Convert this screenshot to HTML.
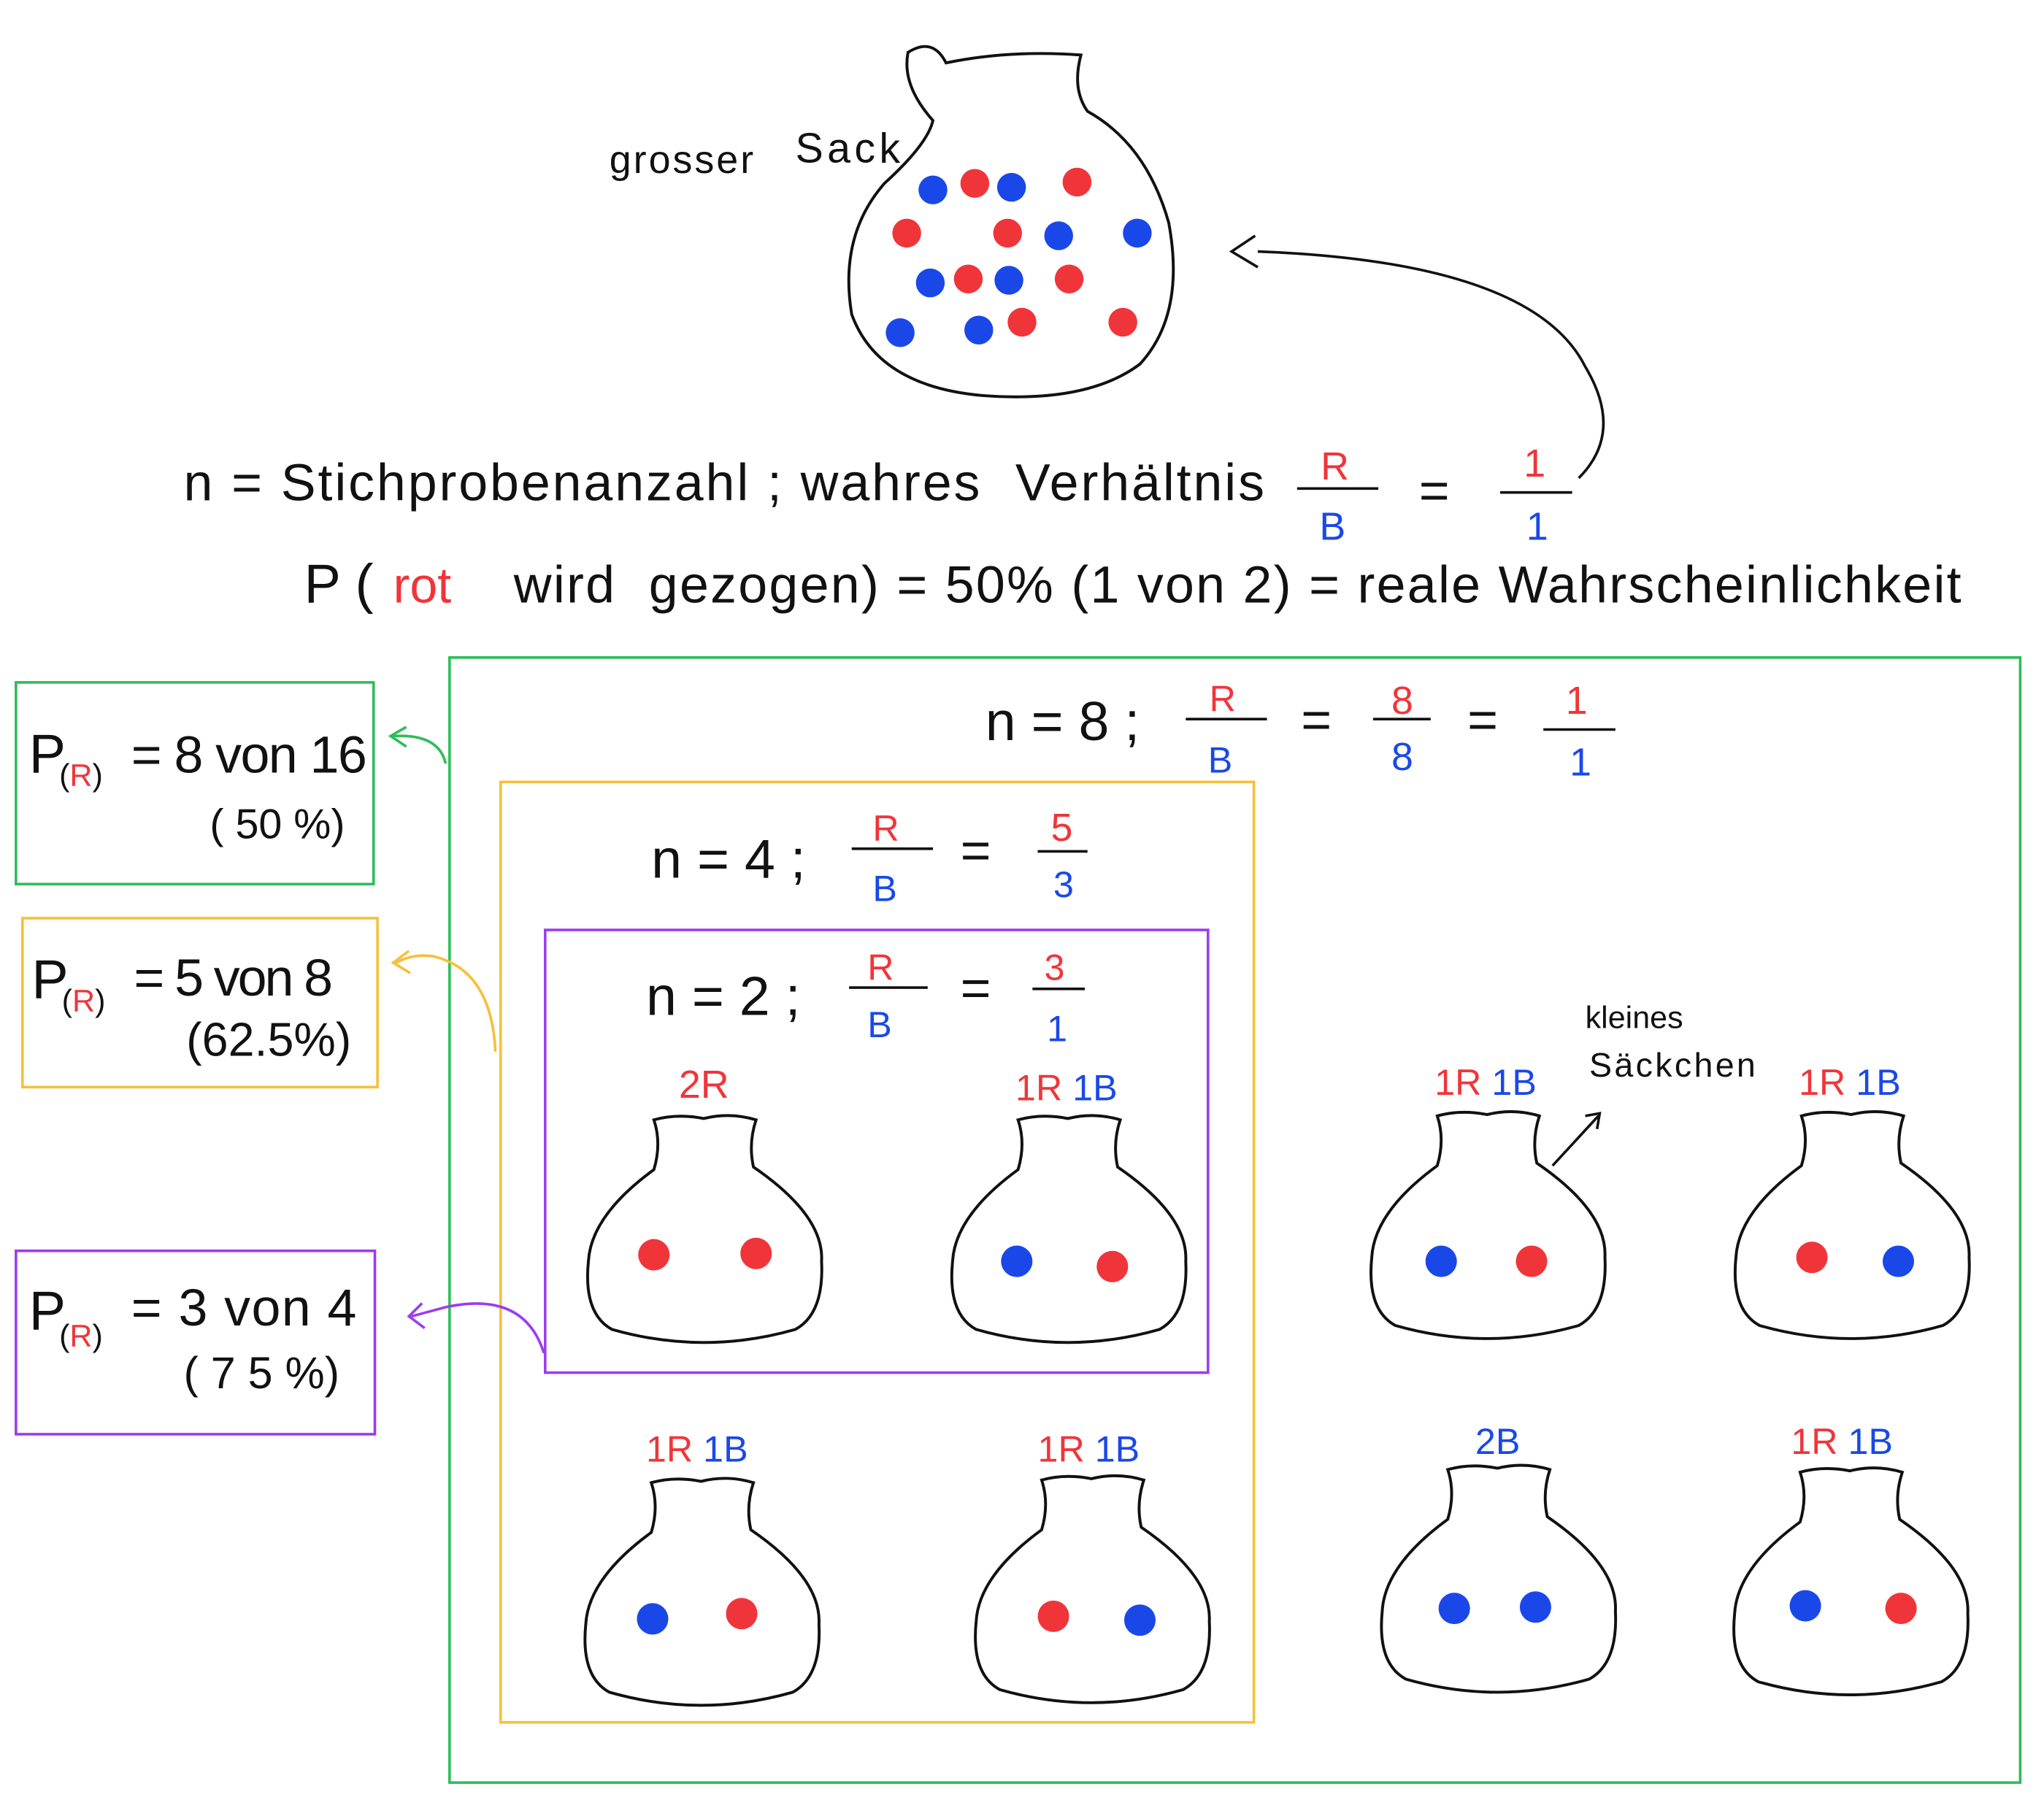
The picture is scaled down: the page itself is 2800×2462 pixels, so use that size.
<!DOCTYPE html>
<html><head><meta charset="utf-8"><style>
html,body{margin:0;padding:0;background:#fff}
svg{display:block}
text{font-family:"Liberation Sans",sans-serif;fill:#111}
.r{fill:#f0353a}.b{fill:#1a48e8}
</style></head><body>
<svg width="2800" height="2462" viewBox="0 0 1560 1372" xmlns="http://www.w3.org/2000/svg">
<defs>
<path id="sack" d="M52,2 Q70,-3 90,1 Q110,-4 130,2 Q124,20 128,38 Q182,75 180,110 Q182,150 160,162 Q90,182 20,162 Q-2,150 2,110 Q4,75 52,40 Q58,20 52,2 Z" fill="none" stroke="#111" stroke-width="2.2"/>
</defs>
<!-- big sack -->
<path d="M693,40 Q712,28 722,48 Q770,38 825,42 Q818,68 830,85 Q875,110 892,170 Q905,240 870,278 Q830,308 750,302 Q670,295 650,240 Q640,180 675,140 Q708,110 712,92 Q688,65 693,40 Z" fill="none" stroke="#111" stroke-width="2.2"/>
<g class="b"><circle cx="712" cy="145" r="11"/><circle cx="772" cy="143" r="11"/><circle cx="808" cy="180" r="11"/><circle cx="868" cy="178" r="11"/><circle cx="710" cy="216" r="11"/><circle cx="770" cy="214" r="11"/><circle cx="687" cy="254" r="11"/><circle cx="747" cy="252" r="11"/></g>
<g class="r"><circle cx="744" cy="140" r="11"/><circle cx="822" cy="139" r="11"/><circle cx="692" cy="178" r="11"/><circle cx="769" cy="178" r="11"/><circle cx="739" cy="213" r="11"/><circle cx="816" cy="213" r="11"/><circle cx="780" cy="246" r="11"/><circle cx="857" cy="246" r="11"/></g>
<text x="465" y="132" font-size="30" textLength="110">grosser</text>
<text x="607" y="124" font-size="32" textLength="80">Sack</text>
<path d="M1205,365 Q1240,330 1210,280 Q1170,200 960,192" fill="none" stroke="#111" stroke-width="2"/>
<path d="M958,180 L940,192 L960,204" fill="none" stroke="#111" stroke-width="2"/>
<!-- main lines -->
<text x="140" y="382" font-size="40" textLength="825" lengthAdjust="spacing">n = Stichprobenanzahl ; wahres&#160; Verhältnis</text>
<text x="1008" y="366" font-size="30" class="r">R</text><line x1="990" y1="373" x2="1052" y2="373" stroke="#111" stroke-width="2"/><text x="1007" y="412" font-size="30" class="b">B</text>
<text x="1083" y="388" font-size="40">=</text>
<text x="1163" y="364" font-size="30" class="r">1</text><line x1="1145" y1="376" x2="1200" y2="376" stroke="#111" stroke-width="2"/><text x="1165" y="412" font-size="30" class="b">1</text>
<text x="232" y="460" font-size="42">P (</text><text x="300" y="460" font-size="38" class="r">rot</text>
<text x="392" y="460" font-size="40" textLength="1105" lengthAdjust="spacing">wird&#160; gezogen) = 50% (1 von 2) = reale Wahrscheinlichkeit</text>
<!-- boxes -->
<rect x="343" y="502" width="1199" height="859" fill="none" stroke="#2ebd58" stroke-width="2"/>
<rect x="12" y="521" width="273" height="154" fill="none" stroke="#2ebd58" stroke-width="2"/>
<rect x="17" y="701" width="271" height="129" fill="none" stroke="#f5c03a" stroke-width="2"/>
<rect x="12" y="955" width="274" height="140" fill="none" stroke="#9b3cf0" stroke-width="2"/>
<rect x="382" y="597" width="575" height="718" fill="none" stroke="#f5c03a" stroke-width="2"/>
<rect x="416" y="710" width="506" height="338" fill="none" stroke="#9b3cf0" stroke-width="2"/>
<!-- side labels -->
<text x="22" y="590" font-size="42">P</text><text x="45" y="600" font-size="24">(<tspan class="r">R</tspan>)</text><text x="100" y="590" font-size="40" textLength="180">= 8 von 16</text>
<text x="160" y="640" font-size="32">( 50 %)</text>
<text x="24" y="762" font-size="42">P</text><text x="47" y="772" font-size="24">(<tspan class="r">R</tspan>)</text><text x="102" y="760" font-size="40" textLength="152">= 5 von 8</text>
<text x="142" y="806" font-size="36">(62.5%)</text>
<text x="22" y="1015" font-size="42">P</text><text x="45" y="1028" font-size="24">(<tspan class="r">R</tspan>)</text><text x="100" y="1012" font-size="40" textLength="172">= 3 von 4</text>
<text x="140" y="1060" font-size="34">( 7 5 %)</text>
<!-- connectors -->
<path d="M340,583 Q335,560 300,562" fill="none" stroke="#2ebd58" stroke-width="2"/><path d="M310,555 L298,562 L310,570" fill="none" stroke="#2ebd58" stroke-width="2"/>
<path d="M378,803 Q375,740 330,730 Q315,728 302,735" fill="none" stroke="#f5c03a" stroke-width="2"/><path d="M312,726 L300,735 L313,743" fill="none" stroke="#f5c03a" stroke-width="2"/>
<path d="M415,1033 Q400,985 340,998 L314,1005" fill="none" stroke="#9b3cf0" stroke-width="2"/><path d="M322,995 L312,1005 L324,1014" fill="none" stroke="#9b3cf0" stroke-width="2"/>
<!-- fractions -->
<text x="752" y="565" font-size="42">n = 8 ;</text>
<text x="923" y="543" font-size="28" class="r">R</text><line x1="905" y1="549" x2="967" y2="549" stroke="#111" stroke-width="2"/><text x="922" y="590" font-size="28" class="b">B</text>
<text x="993" y="563" font-size="40">=</text>
<text x="1062" y="545" font-size="30" class="r">8</text><line x1="1048" y1="549" x2="1092" y2="549" stroke="#111" stroke-width="2"/><text x="1062" y="588" font-size="30" class="b">8</text>
<text x="1120" y="563" font-size="40">=</text>
<text x="1195" y="545" font-size="30" class="r">1</text><line x1="1178" y1="557" x2="1233" y2="557" stroke="#111" stroke-width="2"/><text x="1198" y="592" font-size="30" class="b">1</text>

<text x="497" y="670" font-size="42">n = 4 ;</text>
<text x="666" y="642" font-size="28" class="r">R</text><line x1="650" y1="648" x2="712" y2="648" stroke="#111" stroke-width="2"/><text x="666" y="688" font-size="28" class="b">B</text>
<text x="733" y="663" font-size="40">=</text>
<text x="802" y="642" font-size="30" class="r">5</text><line x1="792" y1="650" x2="830" y2="650" stroke="#111" stroke-width="2"/><text x="804" y="685" font-size="28" class="b">3</text>

<text x="493" y="775" font-size="42">n = 2 ;</text>
<text x="662" y="748" font-size="28" class="r">R</text><line x1="648" y1="754" x2="708" y2="754" stroke="#111" stroke-width="2"/><text x="662" y="792" font-size="28" class="b">B</text>
<text x="733" y="768" font-size="40">=</text>
<text x="797" y="748" font-size="28" class="r">3</text><line x1="788" y1="755" x2="828" y2="755" stroke="#111" stroke-width="2"/><text x="799" y="795" font-size="28" class="b">1</text>

<!-- small sacks -->
<use href="#sack" x="447" y="853"/><text x="518" y="838" font-size="30" class="r">2R</text>
<circle cx="499" cy="958" r="12" class="r"/><circle cx="577" cy="957" r="12" class="r"/>
<use href="#sack" x="725" y="853"/><text x="775" y="840" font-size="28"><tspan class="r">1R</tspan> <tspan class="b">1B</tspan></text>
<circle cx="776" cy="963" r="12" class="b"/><circle cx="849" cy="967" r="12" class="r"/>
<use href="#sack" x="1045" y="850"/><text x="1095" y="836" font-size="28"><tspan class="r">1R</tspan> <tspan class="b">1B</tspan></text>
<circle cx="1100" cy="963" r="12" class="b"/><circle cx="1169" cy="963" r="12" class="r"/>
<use href="#sack" x="1323" y="850"/><text x="1373" y="836" font-size="28"><tspan class="r">1R</tspan> <tspan class="b">1B</tspan></text>
<circle cx="1383" cy="960" r="12" class="r"/><circle cx="1449" cy="963" r="12" class="b"/>
<use href="#sack" x="445" y="1130"/><text x="493" y="1116" font-size="28"><tspan class="r">1R</tspan> <tspan class="b">1B</tspan></text>
<circle cx="498" cy="1236" r="12" class="b"/><circle cx="566" cy="1232" r="12" class="r"/>
<use href="#sack" x="743" y="1128"/><text x="792" y="1116" font-size="28"><tspan class="r">1R</tspan> <tspan class="b">1B</tspan></text>
<circle cx="804" cy="1234" r="12" class="r"/><circle cx="870" cy="1237" r="12" class="b"/>
<use href="#sack" x="1053" y="1120"/><text x="1126" y="1110" font-size="28" class="b">2B</text>
<circle cx="1110" cy="1228" r="12" class="b"/><circle cx="1172" cy="1227" r="12" class="b"/>
<use href="#sack" x="1322" y="1122"/><text x="1367" y="1110" font-size="28"><tspan class="r">1R</tspan> <tspan class="b">1B</tspan></text>
<circle cx="1378" cy="1226" r="12" class="b"/><circle cx="1451" cy="1228" r="12" class="r"/>
<!-- kleines Säckchen -->
<text x="1210" y="785" font-size="24">kleines</text>
<text x="1213" y="822" font-size="26" textLength="127">Säckchen</text>
<path d="M1185,890 L1220,852" fill="none" stroke="#111" stroke-width="2"/><path d="M1210,852 L1221,850 L1219,862" fill="none" stroke="#111" stroke-width="2"/>
</svg>
</body></html>
